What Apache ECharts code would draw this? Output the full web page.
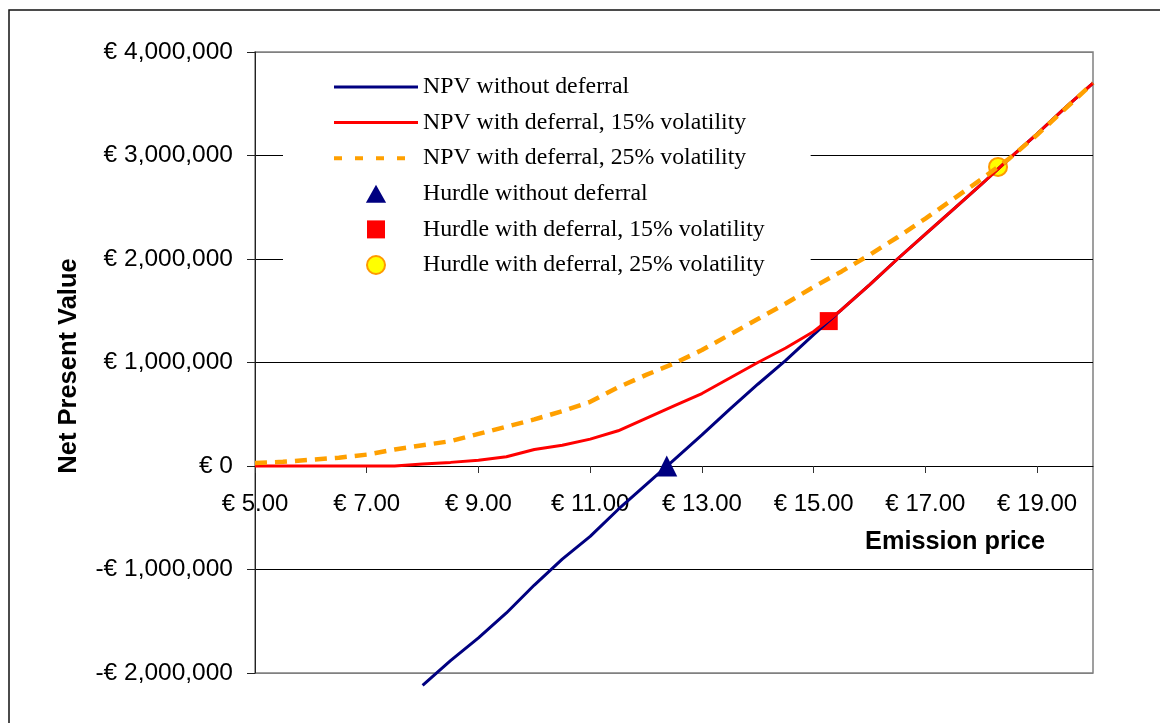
<!DOCTYPE html>
<html>
<head>
<meta charset="utf-8">
<script src="https://cdn.jsdelivr.net/npm/echarts@6/dist/echarts.min.js"></script>
<style>html,body{margin:0;padding:0;background:#fff}#c{width:1160px;height:723px}</style>
</head>
<body>
<div id="c"></div>
<script>
// Emission price (EUR) categories
var prices = [5, 5.5, 6, 6.5, 7, 7.5, 8, 8.5, 9, 9.5, 10, 10.5, 11, 11.5, 12, 12.5, 13, 13.5, 14, 14.5, 15, 15.5, 16, 16.5, 17, 17.5, 18, 18.5, 19, 19.5, 20];
// NPV without deferral
var npvNoDeferral = [null, null, null, null, null, null, -2120000, -1880000, -1660000, -1420000, -1150000, -900000, -680000, -420000, -180000, 60000, 300000, 550000, 790000, 1020000, 1270000, 1510000, 1750000, 2000000, 2240000, 2480000, 2720000, 2970000, 3210000, 3460000, 3700000];
// NPV with deferral, 15% volatility
var npvDeferral15 = [0, 0, 0, 0, 0, 0, 20000, 35000, 55000, 90000, 160000, 200000, 260000, 340000, 460000, 580000, 700000, 850000, 1000000, 1140000, 1300000, 1510000, 1750000, 2000000, 2240000, 2480000, 2720000, 2970000, 3210000, 3460000, 3700000];
// NPV with deferral, 25% volatility
var npvDeferral25 = [30000, 40000, 60000, 80000, 110000, 160000, 200000, 240000, 310000, 380000, 450000, 530000, 620000, 760000, 880000, 990000, 1120000, 1270000, 1420000, 1570000, 1730000, 1880000, 2040000, 2210000, 2390000, 2580000, 2770000, 2970000, 3200000, 3450000, 3700000];
// Hurdle points
var hurdlePrices = [12.37, 15.27, 18.30];
var hurdleValues = [0, 1400000, 2890000];
var seriesNames = [
  'NPV without deferral',
  'NPV with deferral, 15% volatility',
  'NPV with deferral, 25% volatility',
  'Hurdle without deferral',
  'Hurdle with deferral, 15% volatility',
  'Hurdle with deferral, 25% volatility'
];

function pairs(xs, ys) {
  var out = [];
  for (var i = 0; i < xs.length; i++) out.push([xs[i], ys[i]]);
  return out;
}
function fmtMoney(v) {
  var s = Math.abs(v).toString().replace(/\B(?=(\d{3})+(?!\d))/g, ',');
  return (v < 0 ? '-€ ' : '€ ') + s;
}

var sans = "'Liberation Sans', Arial, sans-serif";
var serif = "'Liberation Serif', 'Times New Roman', serif";
var yMin = -2000000, yMax = 4000000;
var gridTop = 52, gridBottom = 50, gridH = 723 - gridTop - gridBottom;
// distance (px) from plot bottom to the zero line, used to place x labels under the zero axis
var zeroFromBottom = gridH * (0 - yMin) / (yMax - yMin);

var navy = '#000080', red = '#FF0000', orange = '#FFA000';

var chart = echarts.init(document.getElementById('c'), null, {renderer: 'canvas'});
chart.setOption({
  backgroundColor: '#fff',
  animation: false,
  grid: {
    left: 255, right: 67, top: gridTop, bottom: gridBottom,
    show: true, borderColor: '#808080', borderWidth: 1.5,
    outerBoundsMode: 'none'
  },
  xAxis: {
    type: 'value', min: 5, max: 20, interval: 2,
    axisLine: {show: true, onZero: true, lineStyle: {color: '#000', width: 1}},
    axisTick: {show: true, length: 7, lineStyle: {color: '#333'}},
    axisLabel: {
      margin: 26 - zeroFromBottom, fontSize: 24, fontFamily: sans, color: '#000',
      showMaxLabel: false,
      formatter: function (v) { return v >= 20 ? '' : '€ ' + v.toFixed(2); }
    },
    splitLine: {show: false}
  },
  yAxis: {
    type: 'value', min: yMin, max: yMax, interval: 1000000,
    axisLine: {show: true, lineStyle: {color: '#222', width: 1}},
    axisTick: {show: true, length: 8, lineStyle: {color: '#222'}},
    axisLabel: {
      margin: 22, fontSize: 24.5, fontFamily: sans, color: '#000',
      formatter: fmtMoney
    },
    splitLine: {show: true, lineStyle: {color: ['#808080', '#000', '#000', '#000', '#000', '#000', '#808080'], width: 1}}
  },
  legend: {
    orient: 'vertical', left: 283, top: 61,
    padding: [14, 46, 8, 49],
    backgroundColor: '#fff',
    itemWidth: 84, itemHeight: 18, itemGap: 11.6,
    symbolKeepAspect: true,
    textStyle: {fontFamily: serif, fontSize: 23.8, color: '#000'},
    data: [
      {name: seriesNames[0], itemStyle: {opacity: 0}, lineStyle: {width: 3, color: navy}},
      {name: seriesNames[1], itemStyle: {opacity: 0}, lineStyle: {width: 3, color: red}},
      {name: seriesNames[2], itemStyle: {opacity: 0}, lineStyle: {width: 4, color: orange, type: [8, 13]}},
      {name: seriesNames[3], icon: 'path://M0,16 L9,0 L18,16 Z', symbolKeepAspect: true, itemStyle: {color: navy}},
      {name: seriesNames[4], icon: 'path://M0,0 L18,0 L18,18 L0,18 Z', symbolKeepAspect: true, itemStyle: {color: red}},
      {name: seriesNames[5]}
    ]
  },
  graphic: [
    {type: 'rect', silent: true, z: 100, shape: {x: 9, y: 10, width: 1300, height: 900},
     style: {fill: 'none', stroke: '#111', lineWidth: 1.5}},
    {type: 'text', silent: true, x: 955, y: 542,
     style: {text: 'Emission price', font: "bold 25.3px 'Liberation Sans', Arial, sans-serif", fill: '#000',
             textAlign: 'center', textVerticalAlign: 'middle'}},
    {type: 'text', silent: true, x: 69, y: 366, rotation: Math.PI / 2,
     style: {text: 'Net Present Value', font: "bold 25.5px 'Liberation Sans', Arial, sans-serif", fill: '#000',
             textAlign: 'center', textVerticalAlign: 'middle'}}
  ],
  series: [
    {name: seriesNames[0], type: 'line', data: pairs(prices, npvNoDeferral), symbol: 'none', clip: false,
     lineStyle: {color: navy, width: 3}, itemStyle: {color: navy}},
    {name: seriesNames[1], type: 'line', data: pairs(prices, npvDeferral15), symbol: 'none',
     lineStyle: {color: red, width: 3}, itemStyle: {color: red}},
    {name: seriesNames[2], type: 'line', data: pairs(prices, npvDeferral25), symbol: 'none',
     lineStyle: {color: orange, width: 4.5, type: [12, 8]}, itemStyle: {color: orange}},
    {name: seriesNames[3], type: 'scatter', data: [[hurdlePrices[0], hurdleValues[0]]], symbol: 'triangle', symbolSize: 21,
     itemStyle: {color: navy, opacity: 1}},
    {name: seriesNames[4], type: 'scatter', data: [[hurdlePrices[1], hurdleValues[1]]], symbol: 'rect', symbolSize: 18,
     itemStyle: {color: red, opacity: 1}},
    {name: seriesNames[5], type: 'scatter', data: [[hurdlePrices[2], hurdleValues[2]]], symbol: 'circle', symbolSize: 18,
     itemStyle: {color: '#FFFF00', borderColor: '#FF9900', borderWidth: 2, opacity: 1}}
  ]
});
</script>
</body>
</html>
